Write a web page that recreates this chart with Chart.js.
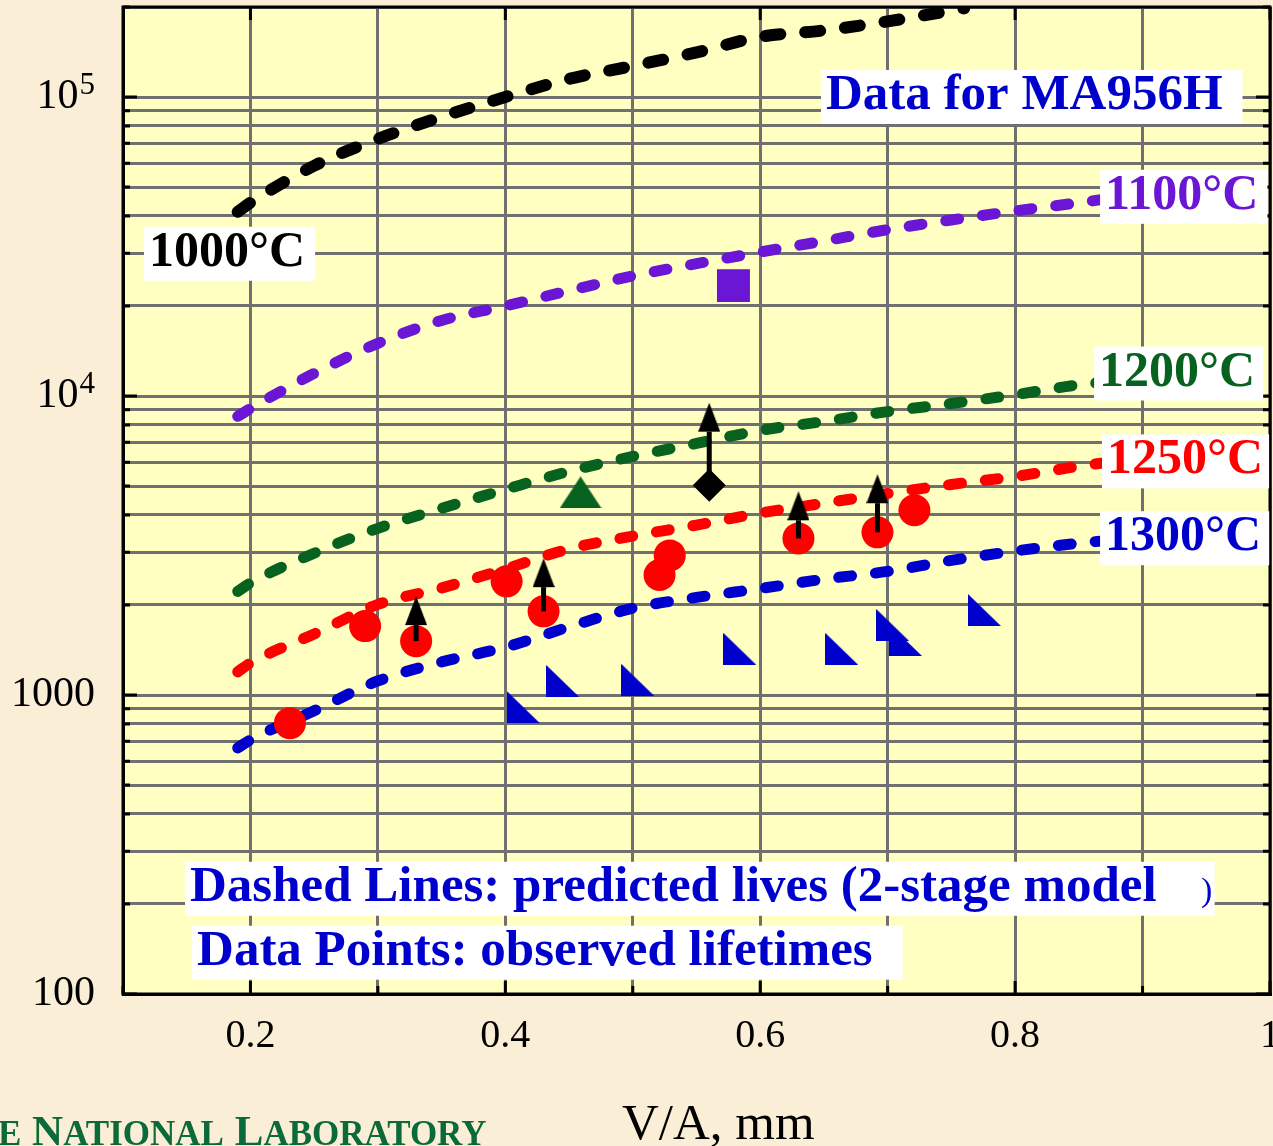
<!DOCTYPE html>
<html>
<head>
<meta charset="utf-8">
<title>MA956H lifetimes vs V/A</title>
<script src="https://cdn.jsdelivr.net/npm/chart.js@4"></script>
<style>
  html, body { margin: 0; padding: 0; overflow: hidden; background: #fbeed7; }
  #wrap { position: relative; width: 1290px; height: 1146px; }
  #chart { display: block; }
  #xtitle {
    position: absolute; left: 622px; top: 1097px;
    font: 51px "Liberation Serif", serif; line-height: 1; color: #000; white-space: nowrap;
  }
  #footer {
    position: absolute; left: -2px; top: 1109px;
    font: bold 43px "Liberation Serif", serif; line-height: 1; color: #0b6a3a; white-space: nowrap;
  }
  #footer .sc { font-size: 35px; }
</style>
</head>
<body>
<div id="wrap">
  <canvas id="chart" width="1290" height="1146"></canvas>
  <div id="xtitle">V/A, mm</div>
  <div id="footer"><span class="sc">E</span> N<span class="sc">ATIONAL</span> L<span class="sc">ABORATORY</span></div>
</div>
<script>
// predicted lives from the 2-stage model (dashed curves)
const vaCurve = [0.19, 0.2, 0.25, 0.3, 0.35, 0.4, 0.45, 0.5, 0.55, 0.6, 0.65, 0.7, 0.75, 0.8, 0.85, 0.9, 1.0];
const vaCurve1000 = [0.19, 0.2, 0.25, 0.3, 0.35, 0.4, 0.45, 0.5, 0.55, 0.6, 0.65, 0.7, 0.76];
const life1000 = [41300, 44300, 58900, 72400, 85800, 100000, 115000, 127000, 141000, 159000, 167000, 179000, 198000];
const life1100 = [8550, 9080, 11900, 15000, 17900, 20000, 22500, 25200, 27700, 30300, 33000, 36000, 38800, 41600, 44300, 47400, 52500];
const life1200 = [2220, 2370, 2980, 3610, 4210, 4870, 5600, 6280, 6940, 7670, 8220, 8870, 9440, 10100, 10900, 11400, 12800];
const life1250 = [1195, 1280, 1600, 2010, 2280, 2640, 3080, 3400, 3700, 4060, 4380, 4720, 5060, 5380, 5820, 6190, 6780];
const life1300 = [665, 708, 885, 1114, 1290, 1445, 1690, 1950, 2120, 2270, 2440, 2590, 2820, 3030, 3220, 3350, 3610];

// observed lifetimes
const vaObs1250 = [0.231, 0.29, 0.33, 0.401, 0.43, 0.521, 0.529, 0.63, 0.692, 0.721];
const obs1250 = [805, 1700, 1514, 2400, 1905, 2520, 2930, 3340, 3500, 4150];
const vaObs1300 = [0.414, 0.445, 0.504, 0.584, 0.664, 0.704, 0.714, 0.776];
const obs1300 = [912, 1114, 1122, 1426, 1426, 1713, 1527, 1923];
const vaObs1200 = [0.459];
const obs1200 = [4760];
const vaObs1100 = [0.579];
const obs1100 = [23400];
const vaDiamond = [0.56];
const obsDiamond = [5030];

// tests still running: arrow from the observed point up to the arrowhead base
const arrowVA = [0.33, 0.43, 0.56, 0.63, 0.692];
const arrowFrom = [1514, 1905, 5030, 3340, 3500];
const arrowTo = [1713, 2295, 7600, 3840, 4380];

// axes
const xGridValues = [0.1, 0.2, 0.3, 0.4, 0.5, 0.6, 0.7, 0.8, 0.9, 1.0];
const xTickLabels = { 0.2: "0.2", 0.4: "0.4", 0.6: "0.6", 0.8: "0.8", 1: "1" };
// [base, exponent]; an empty exponent means plain text
const yTickLabels = { 100: ["100", ""], 1000: ["1000", ""], 10000: ["10", "4"], 100000: ["10", "5"] };
const yGridValues = [];
for (let d = 100; d <= 100000; d *= 10) {
  for (let m = 1; m <= 9; m++) {
    if (m * d <= 200000) yGridValues.push(m * d);
  }
}

const SERIF = '"Liberation Serif", "Times New Roman", serif';

// text boxes placed in data coordinates (left edge, baseline)
const notes = [
  { text: "1000\u00b0C", color: "#000000", x: 0.1204, y: 27270, padR: 10, font: `bold 50px ${SERIF}` },
  { text: "Data for MA956H", color: "#0000cc", x: 0.6516, y: 91200, padR: 20, font: `bold 51px ${SERIF}` },
  { text: "1100\u00b0C", color: "#6a16d4", x: 0.8706, y: 42270, padR: 9, font: `bold 50px ${SERIF}` },
  { text: "1200\u00b0C", color: "#07611f", x: 0.8659, y: 10840, padR: 8, font: `bold 50px ${SERIF}` },
  { text: "1250\u00b0C", color: "#ff0000", x: 0.8721, y: 5510, padR: 6, font: `bold 50px ${SERIF}` },
  { text: "1300\u00b0C", color: "#0000cc", x: 0.8706, y: 3050, padR: 8, font: `bold 50px ${SERIF}` },
  { text: "Dashed Lines: predicted lives (2-stage model", color: "#0000cc", x: 0.1526, y: 205, padR: 58, font: `bold 51px ${SERIF}` },
  { text: ")", color: "#0000cc", x: 0.9459, y: 205, font: `34px ${SERIF}` },
  { text: "Data Points: observed lifetimes", color: "#0000cc", x: 0.1581, y: 125.3, padR: 30, font: `bold 51px ${SERIF}` },
];

function Pairs(xs, ys) {
  return xs.map((v, i) => ({ x: v, y: ys[i] }));
}

// marker images, drawn centred on the point
function MakeArrowHead() {
  const c = document.createElement("canvas");
  c.width = 22;
  c.height = 58;
  const g = c.getContext("2d");
  g.fillStyle = "#000";
  g.beginPath();
  g.moveTo(11, 0);
  g.lineTo(22, 29);
  g.lineTo(0, 29);
  g.closePath();
  g.fill();
  return c;
}
function MakeCornerTriangle(color) {
  const c = document.createElement("canvas");
  c.width = 33;
  c.height = 32;
  const g = c.getContext("2d");
  g.fillStyle = color;
  g.beginPath();
  g.moveTo(0, 0);
  g.lineTo(0, 32);
  g.lineTo(33, 32);
  g.closePath();
  g.fill();
  return c;
}
function MakeTriangle(color) {
  const c = document.createElement("canvas");
  c.width = 42;
  c.height = 32;
  const g = c.getContext("2d");
  g.fillStyle = color;
  g.beginPath();
  g.moveTo(21, 0);
  g.lineTo(42, 32);
  g.lineTo(0, 32);
  g.closePath();
  g.fill();
  return c;
}

function Curve(label, xs, ys, color, width, dash) {
  return {
    label,
    data: Pairs(xs, ys),
    borderColor: color,
    borderWidth: width,
    borderDash: dash,
    borderCapStyle: "round",
    pointRadius: 0,
    fill: false,
    cubicInterpolationMode: "monotone",
    order: 2,
  };
}
function Markers(label, xs, ys, color, style, radius) {
  return {
    label,
    data: Pairs(xs, ys),
    showLine: false,
    pointStyle: style,
    pointRadius: radius,
    pointBackgroundColor: color,
    pointBorderWidth: 0,
    order: 1,
  };
}

const arrowHead = MakeArrowHead();
const arrows = arrowVA.map((v, i) => ({
  label: "runout",
  data: [
    { x: v, y: arrowFrom[i] },
    { x: v, y: arrowTo[i] },
  ],
  borderColor: "#000",
  borderWidth: 5,
  pointStyle: arrowHead,
  pointRadius: [0, 12],
  pointBorderWidth: 0,
  order: 0,
}));

const frameAndNotes = {
  id: "frameAndNotes",
  beforeDraw(chart) {
    const { ctx, chartArea: a } = chart;
    ctx.save();
    ctx.fillStyle = "#ffffc2";
    ctx.fillRect(a.left, a.top, a.right - a.left, a.bottom - a.top);
    ctx.restore();
  },
  afterDatasetsDraw(chart) {
    const { ctx, chartArea: a, scales } = chart;
    const xs = scales.x;
    const ys = scales.y;
    ctx.save();
    ctx.strokeStyle = "#000";
    ctx.lineWidth = 3;
    ctx.strokeRect(a.left, a.top, a.right - a.left, a.bottom - a.top);

    // inward tick marks on all four sides
    ctx.beginPath();
    yGridValues.forEach((v) => {
      const py = ys.getPixelForValue(v);
      const len = yTickLabels[v] ? 14 : 7;
      ctx.moveTo(a.left, py);
      ctx.lineTo(a.left + len, py);
      ctx.moveTo(a.right, py);
      ctx.lineTo(a.right - len, py);
    });
    xGridValues.forEach((v) => {
      const px = xs.getPixelForValue(v);
      const major = xTickLabels[Math.round(v * 10) / 10] !== undefined;
      ctx.moveTo(px, a.bottom);
      ctx.lineTo(px, a.bottom - (major ? 13 : 8));
      if (major) {
        ctx.moveTo(px, a.top);
        ctx.lineTo(px, a.top + 13);
      }
    });
    ctx.stroke();

    // y labels, powers of ten with a raised exponent
    ctx.fillStyle = "#000";
    ctx.textAlign = "right";
    ctx.textBaseline = "alphabetic";
    Object.keys(yTickLabels).forEach((k) => {
      const [base, exp] = yTickLabels[k];
      const py = ys.getPixelForValue(Number(k)) + 11;
      let right = a.left - 28;
      if (exp) {
        ctx.font = `31px ${SERIF}`;
        ctx.fillText(exp, right, py - 14);
        right -= ctx.measureText(exp).width + 1;
      }
      ctx.font = `42px ${SERIF}`;
      ctx.fillText(base, right, py);
    });

    // labelled white boxes
    ctx.textAlign = "left";
    notes.forEach((n) => {
      ctx.font = n.font;
      const px = xs.getPixelForValue(n.x);
      const py = ys.getPixelForValue(n.y);
      const w = ctx.measureText(n.text).width;
      if (n.padR !== undefined) {
        ctx.fillStyle = "#ffffff";
        ctx.fillRect(px - 5, py - 39, w + 5 + n.padR, 54);
      }
      ctx.fillStyle = n.color;
      ctx.fillText(n.text, px, py);
    });
    ctx.restore();
  },
};

new Chart(document.getElementById("chart").getContext("2d"), {
  type: "line",
  data: {
    datasets: [
      ...arrows,
      Markers("1250 obs", vaObs1250, obs1250, "#ff0000", "circle", 16),
      Markers("1300 obs", vaObs1300, obs1300, "#0000cc", MakeCornerTriangle("#0000cc"), 16),
      Markers("1200 obs", vaObs1200, obs1200, "#07611f", MakeTriangle("#07611f"), 16),
      Markers("1100 obs", vaObs1100, obs1100, "#6a16d4", "rect", 23.3),
      Markers("diamond", vaDiamond, obsDiamond, "#000000", "rectRot", 16.5),
      Curve("1000\u00b0C", vaCurve1000, life1000, "#000000", 12, [15, 25]),
      Curve("1100\u00b0C", vaCurve, life1100, "#6a16d4", 11, [13, 24]),
      Curve("1200\u00b0C", vaCurve, life1200, "#07611f", 11, [13, 24]),
      Curve("1250\u00b0C", vaCurve, life1250, "#ff0000", 11, [13, 24]),
      Curve("1300\u00b0C", vaCurve, life1300, "#0000cc", 11, [13, 24]),
    ],
  },
  options: {
    responsive: false,
    animation: false,
    devicePixelRatio: 1,
    layout: { autoPadding: false, padding: { top: 7, right: 20, bottom: 0, left: 0 } },
    plugins: { legend: { display: false }, tooltip: { enabled: false } },
    events: [],
    scales: {
      x: {
        type: "linear",
        min: 0.1,
        max: 1.0,
        afterBuildTicks: (scale) => {
          scale.ticks = xGridValues.map((v) => ({ value: v }));
        },
        afterFit: (scale) => {
          scale.height = 152;
          scale.paddingLeft = 0;
          scale.paddingRight = 0;
        },
        grid: { color: "#707070", lineWidth: 3, drawTicks: false },
        border: { display: true, color: "#000", width: 3 },
        ticks: {
          autoSkip: false,
          maxRotation: 0,
          padding: 18,
          color: "#000",
          font: { family: SERIF, size: 40, lineHeight: 1.2 },
          callback: (v) => xTickLabels[Math.round(v * 10) / 10] || "",
        },
      },
      y: {
        type: "logarithmic",
        min: 100,
        max: 200000,
        afterBuildTicks: (scale) => {
          scale.ticks = yGridValues.map((v) => ({ value: v }));
        },
        afterFit: (scale) => {
          scale.width = 123;
          scale.paddingTop = 0;
          scale.paddingBottom = 0;
        },
        grid: { color: "#707070", lineWidth: 3, drawTicks: false },
        border: { display: true, color: "#000", width: 3 },
        ticks: { display: false },
      },
    },
  },
  plugins: [frameAndNotes],
});
</script>
</body>
</html>
